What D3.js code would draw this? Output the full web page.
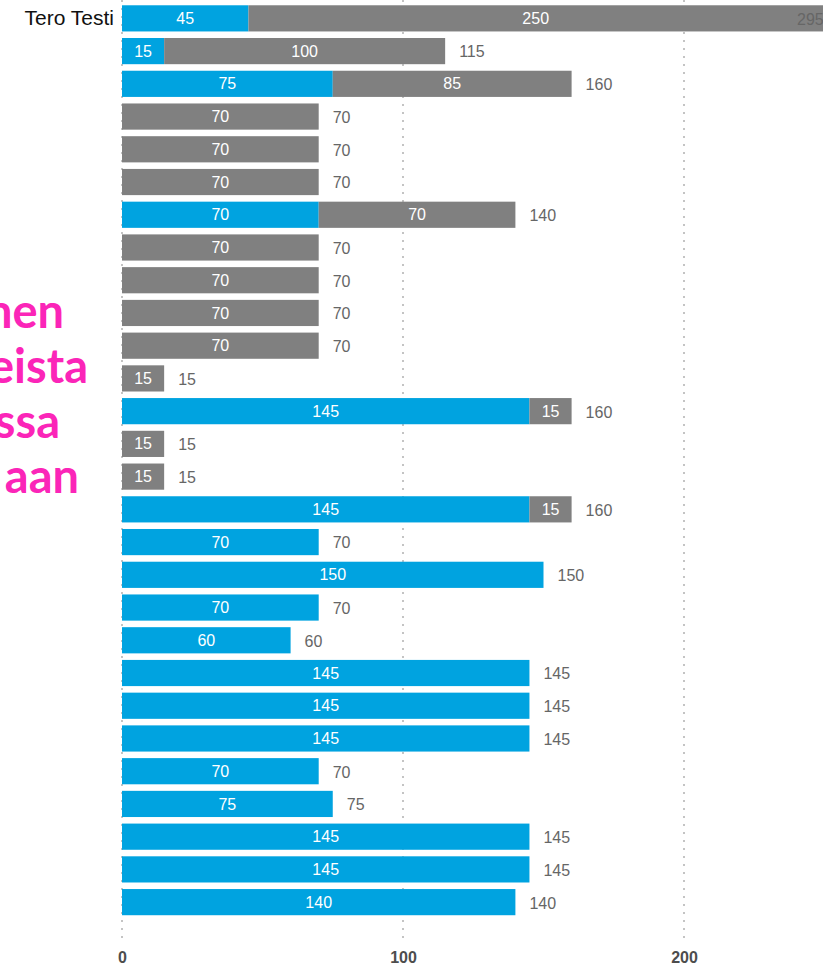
<!DOCTYPE html>
<html>
<head>
<meta charset="utf-8">
<script src="https://cdn.jsdelivr.net/npm/d3@7"></script>
<style>
    body { margin: 0; background: #fff; }
    svg { display: block; }
</style>
</head>
<body>
<div id="chart"></div>
<script>
// data
var names = ["Tero Testi", "", "", "", "", "", "", "", "", "", "", "", "", "", "",
    "", "", "", "", "", "", "", "", "", "", "", "", ""];
var blueValues = [45, 15, 75, 0, 0, 0, 70, 0, 0, 0, 0, 0, 145, 0, 0, 145,
    70, 150, 70, 60, 145, 145, 145, 70, 75, 145, 145, 140];
var grayValues = [250, 100, 85, 70, 70, 70, 70, 70, 70, 70, 70, 15, 15, 15, 15, 15,
    0, 0, 0, 0, 0, 0, 0, 0, 0, 0, 0, 0];
var xTicks = [0, 100, 200];
var sideWords = ["nen", "eista", "ssa", "aan"];

var W = 823, H = 965;
var margin = { top: 2, right: 0, bottom: 46, left: 122 },
    width = W - margin.left - margin.right,
    height = H - margin.top - margin.bottom;

var svg = d3.select("#chart")
    .append("svg")
    .attr("width", W)
    .attr("height", H);

// cropped pink heading text on the left
svg.append("g")
    .selectAll("text")
    .data(sideWords)
    .enter()
    .append("text")
    .attr("x", function (d, i) { return [64, 88, 60, 79][i] })
    .attr("y", function (d, i) { return 328 + i * 55 })
    .attr("text-anchor", "end")
    .attr("fill", "#fb25b8")
    .style("font-family", "Lato, 'Open Sans', sans-serif")
    .style("font-weight", "bold")
    .style("font-size", "47px")
    .text(function (d) { return d });

var g = svg.append("g")
    .attr("transform", "translate(" + margin.left + "," + margin.top + ")");

var rows = names.map(function (n, i) {
    return { name: n, blue: blueValues[i], gray: grayValues[i], total: blueValues[i] + grayValues[i] };
});

var x = d3.scaleLinear()
    .domain([0, 100])
    .range([0, 281]);

var y = d3.scaleBand()
    .domain(d3.range(rows.length))
    .range([0, 916.5])
    .paddingInner(0.2)
    .paddingOuter(0.1);

// dotted grid lines
g.append("g")
    .selectAll("line")
    .data(xTicks)
    .enter()
    .append("line")
    .attr("x1", function (d) { return x(d) })
    .attr("x2", function (d) { return x(d) })
    .attr("y1", -margin.top)
    .attr("y2", 941)
    .attr("stroke", "#c4c4c4")
    .attr("stroke-width", 2)
    .attr("stroke-dasharray", "2,6");

// bottom axis labels
var xAxis = d3.axisBottom(x)
    .tickValues(xTicks)
    .tickSize(0)
    .tickPadding(0);

g.append("g")
    .attr("transform", "translate(0," + (H - margin.top - 13) + ")")
    .call(xAxis)
    .call(function (a) { a.select(".domain").remove() })
    .selectAll("text")
    .attr("fill", "#4d4d4d")
    .style("font-family", "Arial, 'Liberation Sans', sans-serif")
    .style("font-weight", "bold")
    .style("font-size", "16px");

// left category labels
var yAxis = d3.axisLeft(y)
    .tickSize(0)
    .tickPadding(8)
    .tickFormat(function (i) { return rows[i].name });

g.append("g")
    .call(yAxis)
    .call(function (a) { a.select(".domain").remove() })
    .selectAll("text")
    .attr("fill", "#111")
    .style("font-family", "Arial, 'Liberation Sans', sans-serif")
    .style("font-size", "21px");

var segs = [];
rows.forEach(function (r, i) {
    if (r.blue > 0) segs.push({ row: i, x0: 0, x1: r.blue, v: r.blue, color: "#00a3e0" });
    if (r.gray > 0) segs.push({ row: i, x0: r.blue, x1: r.total, v: r.gray, color: "#808080" });
});

var bars = g.append("g");

bars.selectAll("rect")
    .data(segs)
    .enter()
    .append("rect")
    .attr("x", function (d) { return x(d.x0) })
    .attr("width", function (d) { return x(d.x1) - x(d.x0) })
    .attr("y", function (d) { return y(d.row) })
    .attr("height", y.bandwidth())
    .attr("fill", function (d) { return d.color });

// value labels inside segments, centred on the visible part
bars.selectAll("text.seg")
    .data(segs)
    .enter()
    .append("text")
    .attr("class", "seg")
    .attr("x", function (d) { return (x(d.x0) + Math.min(x(d.x1), width)) / 2 })
    .attr("y", function (d) { return y(d.row) + y.bandwidth() / 2 })
    .attr("dy", "0.35em")
    .attr("text-anchor", "middle")
    .attr("fill", "#fff")
    .style("font-family", "Arial, 'Liberation Sans', sans-serif")
    .style("font-size", "16px")
    .text(function (d) { return d.v });

// totals
bars.selectAll("text.total")
    .data(rows)
    .enter()
    .append("text")
    .attr("class", "total")
    .attr("x", function (d) {
        var p = x(d.total) + 14;
        return p + 30 > width ? width - 26 : p;
    })
    .attr("y", function (d, i) { return y(i) + y.bandwidth() / 2 })
    .attr("dy", "0.4em")
    .attr("fill", "#666")
    .style("font-family", "Arial, 'Liberation Sans', sans-serif")
    .style("font-size", "16px")
    .text(function (d) { return d.total });
</script>
</body>
</html>
